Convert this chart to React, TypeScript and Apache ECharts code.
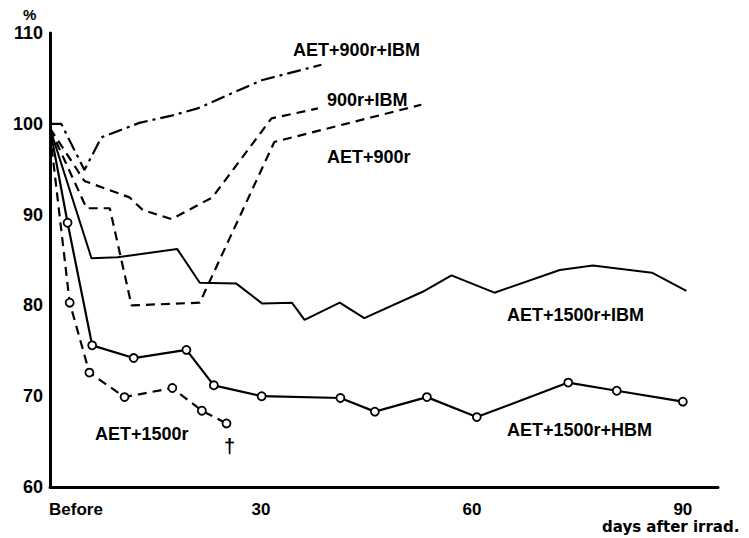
import React, { useEffect, useRef } from "react";
import * as echarts from "echarts";

// x: days after irradiation (0 = "Before"), y: percent
const ibm900Days = [0, 1.6, 4.9, 7.3, 12.7, 17.3, 21.0, 30.1, 38.6];
const ibm900Vals = [100, 100, 94.9, 98.5, 100.1, 100.9, 101.7, 104.8, 106.5];

const only900IbmDays = [0, 4.9, 11.3, 13.2, 17.3, 23.1, 31.5, 38.1];
const only900IbmVals = [99.5, 93.7, 91.9, 90.5, 89.5, 91.9, 100.6, 101.7];

const aet900Days = [0, 5.2, 8.5, 11.6, 21.3, 31.9, 52.8];
const aet900Vals = [99.5, 90.7, 90.7, 80.0, 80.3, 98.0, 102.1];

const ibm1500Days = [0, 5.9, 9.6, 18.1, 21.3, 26.5, 30.2, 34.4, 36.2, 41.2, 44.7, 53.0, 57.1, 63.2, 72.5, 77.2, 85.6, 90.5];
const ibm1500Vals = [99.5, 85.2, 85.3, 86.2, 82.5, 82.4, 80.2, 80.3, 78.4, 80.3, 78.6, 81.5, 83.3, 81.4, 83.9, 84.4, 83.6, 81.6];

const hbm1500Days = [0, 2.5, 6.0, 11.9, 19.4, 23.3, 30.1, 41.3, 46.2, 53.6, 60.7, 73.7, 80.6, 90.0];
const hbm1500Vals = [99.5, 89.1, 75.6, 74.2, 75.1, 71.2, 70.0, 69.8, 68.3, 69.9, 67.7, 71.5, 70.6, 69.4];

const aet1500Days = [0, 2.8, 5.6, 10.6, 17.4, 21.6, 25.1];
const aet1500Vals = [99, 80.3, 72.6, 69.9, 70.9, 68.4, 67.0];

const xTickLabels: Record<number, string> = { 0: "Before", 30: "30", 60: "60", 90: "90" };

const FONT = '"Liberation Sans", Arial, sans-serif';
const WIDE_FONT = '"DejaVu Sans", sans-serif';

function pts(days: number[], vals: number[], markerFromSecond = false) {
  return days.map((d, i) =>
    markerFromSecond && i === 0 ? { value: [d, vals[i]], symbol: "none" } : { value: [d, vals[i]] }
  );
}

export default function App() {
  const ref = useRef<HTMLDivElement>(null);
  useEffect(() => {
    if (!ref.current) return;
    const chart = echarts.init(ref.current, undefined, { renderer: "svg" });
    const lineBase = { type: "line", animation: false, z: 3 };
    const txt = (text: string, x: number, y: number, size = 18, family = FONT) => ({
      type: "text",
      x,
      y,
      style: {
        text,
        font: `bold ${size}px ${family}`,
        fill: "#000",
        align: "left",
        verticalAlign: "middle",
      },
    });
    chart.setOption({
      animation: false,
      backgroundColor: "#fff",
      grid: { left: 50, right: 31, top: 33, bottom: 51 },
      xAxis: {
        type: "value",
        min: 0,
        max: 95,
        interval: 30,
        axisLine: { show: true, lineStyle: { color: "#000", width: 3 } },
        axisTick: { show: false },
        splitLine: { show: false },
        axisLabel: {
          margin: 14,
          color: "#000",
          fontFamily: FONT,
          fontWeight: "bold",
          fontSize: 17,
          formatter: (v: number) => (v === 0 ? "{b|Before}" : xTickLabels[v] ?? ""),
          rich: {
            b: { padding: [0, 0, 0, 52], fontFamily: FONT, fontWeight: "bold", fontSize: 17, color: "#000" },
          },
        },
      },
      yAxis: {
        type: "value",
        min: 60,
        max: 110,
        interval: 10,
        axisLine: { show: true, lineStyle: { color: "#000", width: 3 } },
        axisTick: { show: false },
        splitLine: { show: false },
        axisLabel: {
          margin: 7,
          color: "#000",
          fontFamily: FONT,
          fontWeight: "bold",
          fontSize: 18,
        },
      },
      series: [
        {
          ...lineBase,
          name: "AET+900r+IBM",
          data: pts(ibm900Days, ibm900Vals),
          showSymbol: false,
          lineStyle: { color: "#000", width: 2.2, type: [14, 5, 3, 5] },
        },
        {
          ...lineBase,
          name: "900r+IBM",
          data: pts(only900IbmDays, only900IbmVals),
          showSymbol: false,
          lineStyle: { color: "#000", width: 2.2, type: [9, 6] },
        },
        {
          ...lineBase,
          name: "AET+900r",
          data: pts(aet900Days, aet900Vals),
          showSymbol: false,
          lineStyle: { color: "#000", width: 2.2, type: [9, 6] },
        },
        {
          ...lineBase,
          name: "AET+1500r+IBM",
          data: pts(ibm1500Days, ibm1500Vals),
          showSymbol: false,
          lineStyle: { color: "#000", width: 2 },
        },
        {
          ...lineBase,
          name: "AET+1500r+HBM",
          data: pts(hbm1500Days, hbm1500Vals, true),
          symbol: "circle",
          symbolSize: 8,
          showAllSymbol: true,
          itemStyle: { color: "#fff", borderColor: "#000", borderWidth: 1.8 },
          lineStyle: { color: "#000", width: 2.2 },
        },
        {
          ...lineBase,
          name: "AET+1500r",
          data: pts(aet1500Days, aet1500Vals, true),
          symbol: "circle",
          symbolSize: 8,
          showAllSymbol: true,
          itemStyle: { color: "#fff", borderColor: "#000", borderWidth: 1.8 },
          lineStyle: { color: "#000", width: 2.2, type: [9, 6] },
        },
      ],
      graphic: [
        txt("%", 23, 14, 15),
        txt("AET+900r+IBM", 293, 50),
        txt("900r+IBM", 327, 100),
        txt("AET+900r", 327, 157),
        txt("AET+1500r+IBM", 507, 315),
        txt("AET+1500r+HBM", 507, 430),
        txt("AET+1500r", 95, 434),
        txt("†", 224, 446, 20),
        txt("days after irrad.", 602, 527, 15, WIDE_FONT),
      ],
    });
    return () => chart.dispose();
  }, []);
  return (
    <div
      ref={ref}
      style={{ position: "absolute", left: 0, top: 0, width: 749, height: 538, background: "#fff" }}
    />
  );
}
